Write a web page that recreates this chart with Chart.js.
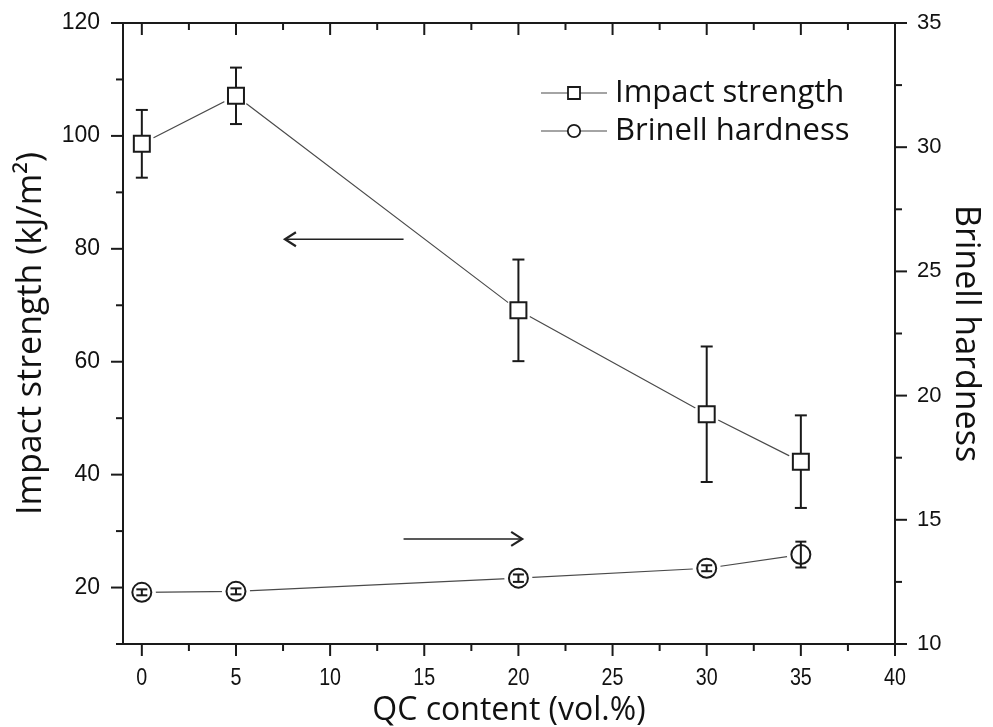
<!DOCTYPE html>
<html>
<head>
<meta charset="utf-8">
<script src="https://cdn.jsdelivr.net/npm/chart.js@4.4.1/dist/chart.umd.min.js"></script>
<style>
  html, body { margin: 0; padding: 0; background: #ffffff; }
  canvas { display: block; }
</style>
</head>
<body>
<canvas id="chart" width="993" height="727"></canvas>
<script>
// QC content vs impact strength / Brinell hardness

const qcContent = [0, 5, 20, 30, 35];
const impactStrength = [98.6, 107.1, 69.1, 50.7, 42.3];
const impactError = [6.0, 5.0, 9.0, 12.0, 8.2];
const brinellHardness = [12.08, 12.12, 12.65, 13.05, 13.6];
const brinellError = [0.12, 0.12, 0.15, 0.12, 0.52];

const xTicks = [0, 5, 10, 15, 20, 25, 30, 35, 40];
const impactTicks = [20, 40, 60, 80, 100, 120];
const hardnessTicks = [10, 15, 20, 25, 30, 35];

// arrows telling which axis each curve uses: [x start, x end, y]
const impactArrow = [13.9, 7.6, 81.7];
const hardnessArrow = [13.9, 20.2, 14.23];

const ink = '#1a1a1a';
const curveColor = '#4a4a4a';
const titleFont = "'Open Sans', 'Lato', sans-serif";

function toPoints(ys) {
  return qcContent.map((x, i) => ({ x, y: ys[i] }));
}

function line(ctx, x1, y1, x2, y2) {
  ctx.beginPath();
  ctx.moveTo(x1, y1);
  ctx.lineTo(x2, y2);
  ctx.stroke();
}

function fixBox(size, key) {
  return s => {
    s[key] = size;
    s.paddingTop = 0;
    s.paddingBottom = 0;
    s.paddingLeft = 0;
    s.paddingRight = 0;
  };
}

function drawErrorBars(chart, axisId, values, errors, cap) {
  const { ctx, scales } = chart;
  ctx.save();
  ctx.strokeStyle = ink;
  ctx.lineWidth = 2;
  qcContent.forEach((x, i) => {
    const px = scales.x.getPixelForValue(x);
    const top = scales[axisId].getPixelForValue(values[i] + errors[i]);
    const bot = scales[axisId].getPixelForValue(values[i] - errors[i]);
    line(ctx, px, top, px, bot);
    line(ctx, px - cap, top, px + cap, top);
    line(ctx, px - cap, bot, px + cap, bot);
  });
  ctx.restore();
}

const errorBarPlugin = {
  id: 'errorBars',
  beforeDatasetDraw(chart, args) {
    if (args.index === 4) drawErrorBars(chart, 'y', impactStrength, impactError, 6);
  },
  afterDatasetDraw(chart, args) {
    if (args.index === 5) drawErrorBars(chart, 'y1', brinellHardness, brinellError, 5.5);
  }
};

const framePlugin = {
  id: 'frame',
  afterDraw(chart) {
    const { ctx, chartArea: a, scales } = chart;
    ctx.save();
    ctx.strokeStyle = ink;
    ctx.lineWidth = 2;
    ctx.strokeRect(a.left, a.top, a.right - a.left, a.bottom - a.top);

    // x ticks: outward at the bottom, inward at the top; narrow labels
    ctx.fillStyle = '#111';
    ctx.font = "24px 'Liberation Sans', Arial, sans-serif";
    ctx.textAlign = 'center';
    ctx.textBaseline = 'middle';
    xTicks.forEach((v, i) => {
      const px = scales.x.getPixelForValue(v);
      line(ctx, px, a.bottom, px, a.bottom + 12);
      line(ctx, px, a.top, px, a.top + 12);
      ctx.save();
      ctx.translate(px, a.bottom + 34);
      ctx.scale(0.82, 1);
      ctx.fillText(String(v), 0, 0);
      ctx.restore();
      if (i < xTicks.length - 1) {
        const m = scales.x.getPixelForValue((v + xTicks[i + 1]) / 2);
        line(ctx, m, a.bottom, m, a.bottom + 7);
        line(ctx, m, a.top, m, a.top + 7);
      }
    });

    impactTicks.forEach(v => {
      const py = scales.y.getPixelForValue(v);
      line(ctx, a.left - 12, py, a.left, py);
      const m = scales.y.getPixelForValue(v - 10);
      line(ctx, a.left - 7, m, a.left, m);
    });

    hardnessTicks.forEach((v, i) => {
      const py = scales.y1.getPixelForValue(v);
      line(ctx, a.right, py, a.right + 12, py);
      if (i < hardnessTicks.length - 1) {
        const m = scales.y1.getPixelForValue(v + 2.5);
        line(ctx, a.right, m, a.right + 7, m);
      }
    });

    // arrows
    ctx.strokeStyle = '#222';
    [[impactArrow, 'y'], [hardnessArrow, 'y1']].forEach(([arr, axis]) => {
      const x1 = scales.x.getPixelForValue(arr[0]);
      const x2 = scales.x.getPixelForValue(arr[1]);
      const py = scales[axis].getPixelForValue(arr[2]);
      const dir = x2 > x1 ? 1 : -1;
      ctx.lineWidth = 1.6;
      line(ctx, x1, py, x2, py);
      ctx.lineWidth = 2.2;
      ctx.beginPath();
      ctx.moveTo(x2 - dir * 11, py - 7);
      ctx.lineTo(x2, py);
      ctx.lineTo(x2 - dir * 11, py + 7);
      ctx.stroke();
    });

    // legend
    ctx.font = `31px ${titleFont}`;
    ctx.textBaseline = 'middle';
    ctx.textAlign = 'left';
    const rows = [['Impact strength', 'rect', 93], ['Brinell hardness', 'circle', 131]];
    rows.forEach(([label, shape, y]) => {
      ctx.strokeStyle = curveColor;
      ctx.lineWidth = 1.2;
      line(ctx, 541, y, 607, y);
      ctx.fillStyle = '#fff';
      ctx.strokeStyle = ink;
      ctx.lineWidth = 1.8;
      ctx.beginPath();
      if (shape === 'rect') ctx.rect(568, y - 6, 12, 12);
      else ctx.arc(574, y, 6.2, 0, Math.PI * 2);
      ctx.fill();
      ctx.stroke();
      ctx.fillStyle = '#111';
      ctx.fillText(label, 615, y);
    });
    ctx.restore();
  }
};

const ctx = document.getElementById('chart');

new Chart(ctx, {
  type: 'line',
  data: {
    datasets: [
      {
        data: toPoints(impactStrength), yAxisID: 'y', order: 6,
        borderColor: curveColor, borderWidth: 1.2, pointRadius: 0, tension: 0
      },
      {
        data: toPoints(brinellHardness), yAxisID: 'y1', order: 5,
        borderColor: curveColor, borderWidth: 1.2, pointRadius: 0, tension: 0
      },
      {
        data: toPoints(impactStrength), yAxisID: 'y', order: 4, showLine: false,
        pointStyle: 'circle', pointRadius: 13, pointBorderWidth: 0,
        pointBackgroundColor: '#ffffff'
      },
      {
        data: toPoints(brinellHardness), yAxisID: 'y1', order: 3, showLine: false,
        pointStyle: 'circle', pointRadius: 14, pointBorderWidth: 0,
        pointBackgroundColor: '#ffffff'
      },
      {
        data: toPoints(impactStrength), yAxisID: 'y', order: 2, showLine: false,
        pointStyle: 'rect', pointRadius: 11.3, pointBorderWidth: 2,
        pointBorderColor: ink, pointBackgroundColor: '#ffffff'
      },
      {
        data: toPoints(brinellHardness), yAxisID: 'y1', order: 1, showLine: false,
        pointStyle: 'circle', pointRadius: 9.5, pointBorderWidth: 2,
        pointBorderColor: ink, pointBackgroundColor: '#ffffff'
      }
    ]
  },
  options: {
    responsive: false,
    animation: false,
    devicePixelRatio: 1,
    events: [],
    layout: { padding: { top: 23, left: 0, right: 0, bottom: 0 } },
    plugins: {
      legend: { display: false },
      tooltip: { enabled: false }
    },
    scales: {
      x: {
        type: 'linear',
        min: -1,
        max: 40,
        afterBuildTicks: s => { s.ticks = xTicks.map(value => ({ value })); },
        afterFit: fixBox(83, 'height'),
        grid: { display: false, drawTicks: false },
        border: { display: false },
        ticks: { display: false },
        title: {
          display: true,
          text: 'QC content (vol.%)',
          color: '#111',
          padding: { top: 0, bottom: 0 },
          font: { family: titleFont, size: 32, lineHeight: 1 }
        }
      },
      y: {
        position: 'left',
        min: 10,
        max: 120,
        afterBuildTicks: s => { s.ticks = impactTicks.map(value => ({ value })); },
        afterFit: fixBox(123, 'width'),
        grid: { display: false, drawTicks: false },
        border: { display: false },
        ticks: {
          padding: 23,
          color: '#111',
          font: { family: "'Liberation Sans', Arial, sans-serif", size: 23 }
        },
        title: {
          display: true,
          text: 'Impact strength (kJ/m²)',
          color: '#111',
          padding: { top: 14, bottom: 0 },
          font: { family: titleFont, size: 34, lineHeight: 1 }
        }
      },
      y1: {
        position: 'right',
        min: 10,
        max: 35,
        afterBuildTicks: s => { s.ticks = hardnessTicks.map(value => ({ value })); },
        afterFit: fixBox(98, 'width'),
        grid: { display: false, drawTicks: false },
        border: { display: false },
        ticks: {
          padding: 22,
          color: '#111',
          font: { family: "'Liberation Sans', Arial, sans-serif", size: 22 }
        },
        title: {
          display: true,
          text: 'Brinell hardness',
          color: '#111',
          padding: { top: 10, bottom: 0 },
          font: { family: titleFont, size: 34, lineHeight: 1 }
        }
      }
    }
  },
  plugins: [errorBarPlugin, framePlugin]
});
</script>
</body>
</html>
